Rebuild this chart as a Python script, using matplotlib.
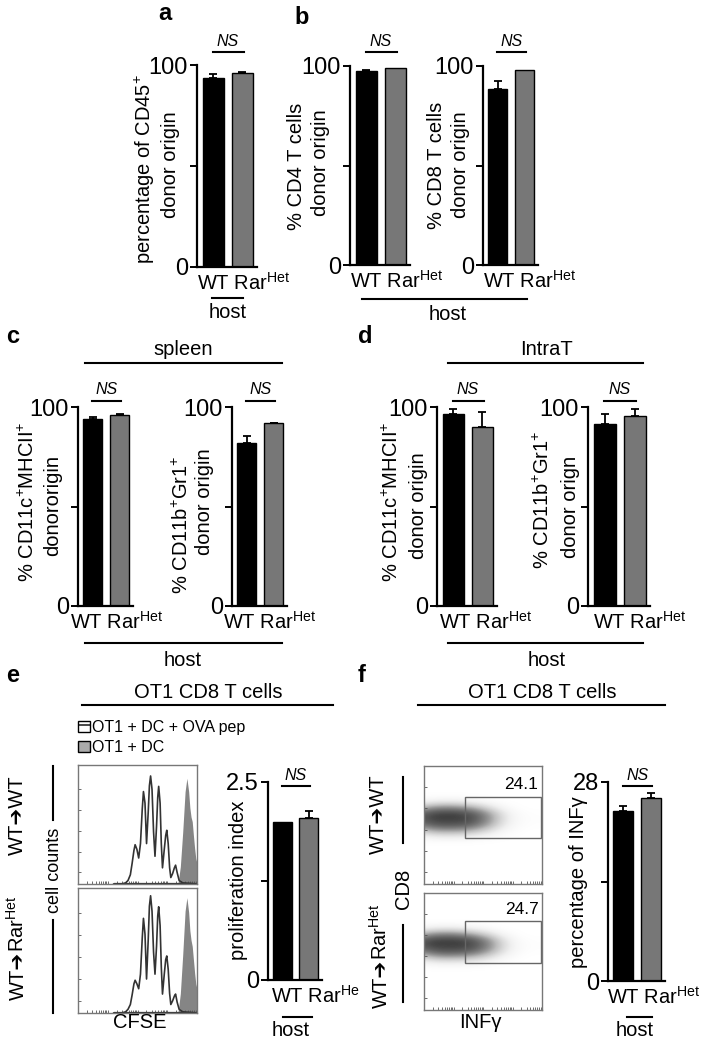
import numpy as np
import matplotlib
matplotlib.use("Agg")
import matplotlib.pyplot as plt
from matplotlib.lines import Line2D
from matplotlib.patches import Patch, Rectangle
from matplotlib.transforms import blended_transform_factory

plt.rcParams['font.family'] = ['Liberation Sans', 'DejaVu Sans']
plt.rcParams['mathtext.fontset'] = 'custom'
plt.rcParams['mathtext.rm'] = 'Liberation Sans'
plt.rcParams['mathtext.it'] = 'Liberation Sans:italic'

W, H = 701, 1050

# ---- bar data (WT, RarHet) mean and upper error ----
groups = ['WT', 'RarHet']
a_cd45 = [93.7, 96.0];      a_cd45_err = [1.8, 0.7]
b_cd4 = [97.5, 98.8];       b_cd4_err = [0.6, 0.0]
b_cd8 = [88.3, 98.0];       b_cd8_err = [4.2, 0.0]
c_dc = [94.0, 96.0];        c_dc_err = [1.2, 0.3]
c_myel = [82.0, 91.8];      c_myel_err = [3.4, 0.4]
d_dc = [96.5, 89.8];        d_dc_err = [2.5, 7.7]
d_myel = [91.5, 95.7];      d_myel_err = [4.8, 3.1]
e_prolif = [2.0, 2.05];     e_prolif_err = [0.0, 0.09]
f_infg = [23.9, 25.7];      f_infg_err = [0.7, 0.8]

# ---- CFSE histograms (x, y in % of frame) ----
hist_x = [30, 37, 40, 42, 44, 45.5, 47, 48, 49.5, 51, 52.5, 54, 55, 56.3, 57.6, 59, 60, 61,
          62.2, 63.5, 64.7, 66, 67, 67.8, 69, 70, 71, 72.5, 73.7, 74.6, 75.8, 77, 78, 79.5,
          81, 82, 83.3, 85, 88, 100]
hist_wt = [0, 0, 1, 3, 8, 18, 29, 34, 30, 22.5, 35, 65, 80, 70, 35, 62, 85, 93.5,
           82, 45, 24, 50, 75, 84.5, 70, 35, 14, 30, 42, 46.5, 35, 14, 5.6, 9,
           14, 16.3, 10, 3, 1, 0]
hist_het = [0, 0, 1, 3, 7, 15, 24, 27, 24, 20, 32, 62, 78, 65, 28, 60, 88, 96.6,
            84, 50, 32, 55, 80, 87.5, 72, 38, 15.6, 32, 44, 47, 36, 16, 7, 10,
            14, 15.6, 9, 3, 1, 0]
ctrl_x = [84, 86, 88, 90, 91.5, 93, 94, 95, 96, 97, 98, 99, 100]
ctrl_wt = [0, 15, 45, 80, 91.5, 80, 66, 58, 54, 42, 31, 22, 18]
ctrl_het = [0, 16, 48, 84, 95, 83, 68, 60, 55, 44, 33, 24, 20]

# ---- INFg dot plot density (rows = CD8 level, cols = INFg level) ----
dens_x = [0, 8, 16, 24, 32, 40, 48, 56, 64, 72, 80, 88, 96]
dens_y = [35, 40, 45, 50, 55, 60, 65, 70, 75]
dens_wt = [
    [0.00, 0.00, 0.00, 0.00, 0.00, 0.00, 0.00, 0.00, 0.00, 0.00, 0.00, 0.00, 0.00],
    [0.10, 0.14, 0.16, 0.16, 0.15, 0.12, 0.08, 0.05, 0.02, 0.01, 0.00, 0.00, 0.00],
    [0.42, 0.52, 0.56, 0.56, 0.54, 0.48, 0.38, 0.26, 0.13, 0.05, 0.02, 0.00, 0.00],
    [0.78, 0.88, 0.92, 0.92, 0.90, 0.84, 0.70, 0.52, 0.30, 0.13, 0.05, 0.02, 0.01],
    [0.92, 1.00, 1.00, 1.00, 1.00, 0.95, 0.82, 0.62, 0.38, 0.17, 0.06, 0.03, 0.02],
    [0.88, 0.96, 1.00, 1.00, 0.96, 0.90, 0.76, 0.56, 0.33, 0.14, 0.05, 0.02, 0.01],
    [0.48, 0.60, 0.64, 0.64, 0.60, 0.52, 0.40, 0.25, 0.12, 0.04, 0.01, 0.00, 0.00],
    [0.09, 0.13, 0.15, 0.15, 0.13, 0.10, 0.06, 0.03, 0.01, 0.00, 0.00, 0.00, 0.00],
    [0.00, 0.00, 0.00, 0.00, 0.00, 0.00, 0.00, 0.00, 0.00, 0.00, 0.00, 0.00, 0.00],
]
dens_het = [
    [0.00, 0.00, 0.00, 0.00, 0.00, 0.00, 0.00, 0.00, 0.00, 0.00, 0.00, 0.00, 0.00],
    [0.08, 0.12, 0.14, 0.14, 0.13, 0.11, 0.08, 0.05, 0.02, 0.01, 0.00, 0.00, 0.00],
    [0.38, 0.48, 0.54, 0.54, 0.52, 0.46, 0.38, 0.26, 0.14, 0.06, 0.02, 0.00, 0.00],
    [0.75, 0.86, 0.92, 0.92, 0.90, 0.84, 0.72, 0.55, 0.34, 0.15, 0.06, 0.02, 0.01],
    [0.94, 1.00, 1.00, 1.00, 1.00, 0.96, 0.85, 0.66, 0.42, 0.20, 0.07, 0.03, 0.02],
    [0.90, 0.98, 1.00, 1.00, 0.98, 0.92, 0.78, 0.60, 0.36, 0.16, 0.05, 0.02, 0.01],
    [0.52, 0.64, 0.68, 0.68, 0.62, 0.54, 0.42, 0.28, 0.13, 0.05, 0.01, 0.00, 0.00],
    [0.11, 0.15, 0.17, 0.17, 0.14, 0.11, 0.07, 0.03, 0.01, 0.00, 0.00, 0.00, 0.00],
    [0.00, 0.00, 0.00, 0.00, 0.00, 0.00, 0.00, 0.00, 0.00, 0.00, 0.00, 0.00, 0.00],
]
gate_pct = ['24.1', '24.7']

fig = plt.figure(figsize=(W / 100, H / 100), dpi=100)

LAB = 14.5    # axis label size
TICK = 17     # tick label size
GRP = 14.5    # group / host text size

def add_ax(l, t, r, b):
    return fig.add_axes([l / W, 1 - b / H, (r - l) / W, (b - t) / H])

def txt(x, y, s, size=LAB, **kw):
    kw.setdefault('ha', 'center')
    kw.setdefault('va', 'center')
    return fig.text(x / W, 1 - y / H, s, fontsize=size, **kw)

def hline(x0, x1, y, lw=1.5):
    fig.add_artist(Line2D([x0 / W, x1 / W], [1 - y / H] * 2, color='k', lw=lw))

def vline(x, y0, y1, lw=1.5):
    fig.add_artist(Line2D([x / W] * 2, [1 - y0 / H, 1 - y1 / H], color='k', lw=lw))

HET = 'Rar$^{\\mathrm{Het}}$'

def bar_panel(box, vals, errs, ymax, ticklab, ns_y, xlab_x, xlab='WT ' + HET):
    ax = add_ax(*box)
    ax.bar([0, 1], vals, width=0.72, color=['black', '#777777'], edgecolor='black', lw=1.0)
    for i in range(2):
        if errs[i] > 0:
            ax.errorbar([i], [vals[i]], yerr=[[0], [errs[i]]], fmt='none', ecolor='black',
                        elinewidth=1.3, capsize=3, capthick=1.3)
    ax.set_xlim(-0.55, 1.5)
    ax.set_ylim(0, ymax)
    ax.set_yticks([0, ymax / 2, ymax])
    ax.set_yticklabels([ticklab[0], '', ticklab[1]])
    ax.set_xticks([])
    for s in ['top', 'right']:
        ax.spines[s].set_visible(False)
    for s in ['left', 'bottom']:
        ax.spines[s].set_linewidth(1.6)
    ax.tick_params(axis='y', length=5, width=1.4, labelsize=TICK, pad=1.5)
    ax.patch.set_alpha(0)
    tr = blended_transform_factory(ax.transData, fig.transFigure)
    ax.add_artist(Line2D([-0.02, 1.05], [1 - ns_y / H] * 2, color='k', lw=1.5,
                         transform=tr, clip_on=False))
    ax.text(0.5, 1 - (ns_y - 11) / H, 'NS', transform=tr, style='italic', fontsize=11.5,
            ha='center', va='center')
    txt(xlab_x, box[3] + 16, xlab, GRP, ha='left')
    return ax

def arrow_label(xc, ysplit, right, size=LAB):
    # rotated "WT➔" + right-hand part sharing one baseline
    xb = (xc + 0.36 * size * 100 / 72) / W
    yb = 1 - ysplit / H
    fig.text(xb, yb, 'WT\u2794', fontsize=size, rotation=90, rotation_mode='anchor',
             ha='right', va='baseline')
    fig.text(xb, yb, right, fontsize=size, rotation=90, rotation_mode='anchor',
             ha='left', va='baseline')

# panel letters
for s, x, y in [('a', 165, 14), ('b', 302, 17), ('c', 13, 337), ('d', 365, 337),
                ('e', 13, 676), ('f', 362, 676)]:
    txt(x, y, s, 17, weight='bold')

# ---- a ----
bar_panel((197, 65, 257, 267), a_cd45, a_cd45_err, 100, ('0', '100'), 52, 197)
txt(145, 169, 'percentage of CD45$^{+}$', LAB, rotation=90)
txt(170, 165, 'donor origin', LAB, rotation=90)
hline(212, 243, 298)
txt(228, 313, 'host', GRP)

# ---- b ----
bar_panel((350, 66, 410, 265), b_cd4, b_cd4_err, 100, ('0', '100'), 52, 350)
bar_panel((483, 66, 538, 265), b_cd8, b_cd8_err, 100, ('0', '100'), 52, 483)
txt(297, 166, '% CD4 T cells', LAB, rotation=90)
txt(321, 163, 'donor origin', LAB, rotation=90)
txt(437, 165, '% CD8 T cells', LAB, rotation=90)
txt(460, 165, 'donor origin', LAB, rotation=90)
hline(362, 527, 299)
txt(448, 314, 'host', GRP)

# ---- c ----
txt(183, 349, 'spleen', GRP)
hline(85, 282, 363)
bar_panel((78, 407, 133, 606), c_dc, c_dc_err, 100, ('0', '100'), 401, 70)
bar_panel((232, 407, 287, 606), c_myel, c_myel_err, 100, ('0', '100'), 401, 223)
txt(28, 502, '% CD11c$^{+}$MHCII$^{+}$', LAB, rotation=90)
txt(53, 506, 'donororigin', LAB, rotation=90)
txt(182, 525, '% CD11b$^{+}$Gr1$^{+}$', LAB, rotation=90)
txt(204, 502, 'donor origin', LAB, rotation=90)
hline(85, 282, 643)
txt(183, 660, 'host', GRP)

# ---- d ----
txt(547, 349, 'IntraT', GRP)
hline(448, 643, 363)
bar_panel((437, 407, 497, 606), d_dc, d_dc_err, 100, ('0', '100'), 401, 439)
bar_panel((588, 407, 650, 606), d_myel, d_myel_err, 100, ('0', '100'), 401, 593)
txt(392, 502, '% CD11c$^{+}$MHCII$^{+}$', LAB, rotation=90)
txt(418, 506, 'donor origin', LAB, rotation=90)
txt(543, 500, '% CD11b$^{+}$Gr1$^{+}$', LAB, rotation=90)
txt(570, 507, 'donor orign', LAB, rotation=90)
hline(448, 643, 643)
txt(547, 660, 'host', GRP)

# ---- e ----
txt(208, 692, 'OT1 CD8 T cells', GRP)
hline(82, 333, 705)

def flow_frame(ax):
    ax.set_xlim(0, 100)
    ax.set_ylim(0, 100)
    for s in ax.spines.values():
        s.set_color('#777777')
        s.set_linewidth(1.0)
    dec = np.log10(np.arange(1, 10))
    xt = np.concatenate([d * 25 + dec * 25 for d in range(4)])
    ax.set_xticks(xt)
    ax.set_xticklabels([])
    ax.set_yticks([10, 28, 46, 64, 82])
    ax.set_yticklabels([])
    ax.tick_params(length=2, width=0.6, color='#555555', direction='in')

for box, hy, cy in [((78, 765, 197, 884), hist_wt, ctrl_wt),
                    ((78, 888, 197, 1013), hist_het, ctrl_het)]:
    ax = add_ax(*box)
    ax.fill_between(ctrl_x, cy, color='#858585', lw=0)
    ax.plot(hist_x, hy, color='#333333', lw=1.2)
    ax.plot([30, 100], [0.6, 0.6], color='#333333', lw=0.9)
    flow_frame(ax)
    ax.set_ylim(0, 103)

leg_ax = fig.add_axes([0, 0, 1, 1], frameon=False)
leg_ax.set_axis_off()
handles = [Patch(facecolor='white', edgecolor='black', hatch='-', lw=1.0),
           Patch(facecolor='#aaaaaa', edgecolor='black', lw=1.0)]
leg = leg_ax.legend(handles, ['OT1 + DC + OVA pep', 'OT1 + DC'], loc='upper left',
                    bbox_to_anchor=(78 / W, 1 - 720 / H), frameon=False, fontsize=11.5,
                    handlelength=0.75, handleheight=0.65, handletextpad=0.15,
                    labelspacing=0.3, borderpad=0, borderaxespad=0)

bar_panel((268, 782, 322, 980), e_prolif, e_prolif_err, 2.5, ('0', '2.5'), 786, 271,
          xlab='WT Rar$^{\\mathrm{He}}$')
txt(238, 880, 'proliferation index', LAB, rotation=90)
hline(283, 312, 1017)
txt(291, 1030, 'host', GRP)

txt(17, 815, 'WT\u2794WT', LAB, rotation=90)
arrow_label(17, 952, HET)
vline(53, 766, 820)
vline(53, 920, 1013)
txt(55, 870, 'cell counts', 13, rotation=90)
txt(140, 1023, 'CFSE', LAB)

# ---- f ----
txt(542, 692, 'OT1 CD8 T cells', GRP)
hline(418, 665, 705)
for box, d, g_lo, g_hi, lab in [((424, 766, 542, 884), dens_wt, 38.6, 74, gate_pct[0]),
                                ((424, 893, 542, 1010), dens_het, 40, 76, gate_pct[1])]:
    ax = add_ax(*box)
    dx = (dens_x[1] - dens_x[0]) / 2
    dy = (dens_y[1] - dens_y[0]) / 2
    ax.imshow(np.array(d), origin='lower', cmap='Greys', vmin=0, vmax=1.25,
              interpolation='bicubic', aspect='auto',
              extent=[dens_x[0] - dx, dens_x[-1] + dx, dens_y[0] - dy, dens_y[-1] + dy])
    ax.add_patch(Rectangle((35, g_lo), 64, g_hi - g_lo, fill=False, ec='#666666', lw=1.0))
    ax.text(97, g_hi + 10, lab, ha='right', va='center', fontsize=12.5)
    flow_frame(ax)

bar_panel((608, 782, 665, 981), f_infg, f_infg_err, 28, ('0', '28'), 786, 607)
txt(579, 882, 'percentage of INF\u03b3', LAB, rotation=90)
hline(627, 652, 1017)
txt(635, 1030, 'host', GRP)
txt(378, 814, 'WT\u2794WT', LAB, rotation=90)
arrow_label(380, 960, HET)
vline(403, 777, 843)
vline(403, 925, 1002)
txt(403, 889, 'CD8', LAB, rotation=90)
txt(480, 1023, 'INF\u03b3', LAB)

fig.savefig('out.png', dpi=100)
